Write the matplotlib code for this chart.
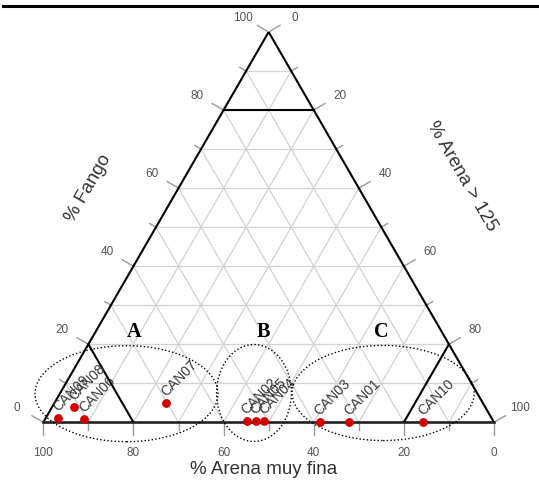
import numpy as np
import matplotlib
matplotlib.use('Agg')
import matplotlib.pyplot as plt
from matplotlib.patches import Ellipse
from matplotlib.lines import Line2D

# datos (porcentajes)
muestras = ['CAN09', 'CAN08', 'CAN06', 'CAN07', 'CAN02', 'CAN05', 'CAN04', 'CAN03', 'CAN01', 'CAN10']
arena_fina = [96.2, 91.2, 90.6, 70.3, 54.7, 52.7, 50.8, 38.6, 32.0, 15.7]
fango = [1.0, 4.0, 0.8, 4.9, 0.4, 0.4, 0.4, 0.2, 0.2, 0.2]
arena_125 = [2.8, 4.8, 8.6, 24.8, 44.9, 46.9, 48.8, 61.2, 67.8, 84.1]

ticks_mayores = [0, 20, 40, 60, 80, 100]
ticks_menores = [10, 30, 50, 70, 90]

H = np.sqrt(3) / 2


def tern(a, f, s):
    # a = arena muy fina (abajo izq), f = fango (arriba), s = arena > 125 (abajo der)
    return s + f / 2, f * H


fig = plt.figure(figsize=(5.39, 4.81), dpi=100)
ax = fig.add_axes([43.3 / 539, (481 - 423.3) / 481, 450.7 / 539, 450.7 * H / 481])
ax.set_xlim(0, 100)
ax.set_ylim(0, 100 * H)
ax.axis('off')

# linea superior
fig.add_artist(Line2D([0.006, 1.0], [1 - 7 / 481, 1 - 7 / 481], color='black', lw=2.2))

# cuadricula
gris = '#d2d2d2'
for v in range(10, 100, 10):
    x0, y0 = tern(100 - v, v, 0)
    x1, y1 = tern(0, v, 100 - v)
    ax.plot([x0, x1], [y0, y1], color=gris, lw=0.9, zorder=1)
    x0, y0 = tern(100 - v, 0, v)
    x1, y1 = tern(0, 100 - v, v)
    ax.plot([x0, x1], [y0, y1], color=gris, lw=0.9, zorder=1)
    x0, y0 = tern(v, 0, 100 - v)
    x1, y1 = tern(v, 100 - v, 0)
    ax.plot([x0, x1], [y0, y1], color=gris, lw=0.9, zorder=1)

# bordes del triangulo
A = tern(100, 0, 0)
F = tern(0, 100, 0)
S = tern(0, 0, 100)
ax.plot([A[0], F[0], S[0]], [A[1], F[1], S[1]], color='black', lw=1.5, zorder=3)
ax.plot([A[0], S[0]], [A[1], S[1]], color='#222222', lw=1.9, zorder=3, clip_on=False)

# lineas de clasificacion
for p, q in [(tern(20, 80, 0), tern(0, 80, 20)),
             (tern(80, 20, 0), tern(80, 0, 20)),
             (tern(20, 0, 80), tern(0, 20, 80))]:
    ax.plot([p[0], q[0]], [p[1], q[1]], color='black', lw=1.5, zorder=3)

# ticks y etiquetas
col_tick = '#9a9a9a'
col_lab = '#555555'
d_lab = 6.7
ejes = [
    (lambda v: tern(v, 0, 100 - v), (0.0, -1.0)),   # arena muy fina
    (lambda v: tern(100 - v, v, 0), (-H, 0.5)),     # fango
    (lambda v: tern(0, 100 - v, v), (H, 0.5)),      # arena > 125
]
for pos, (dx, dy) in ejes:
    for v in ticks_mayores + ticks_menores:
        x, y = pos(v)
        L = 2.9 if v in ticks_mayores else 1.6
        ax.plot([x, x + dx * L], [y, y + dy * L], color=col_tick, lw=1.0,
                clip_on=False, zorder=2)
    for v in ticks_mayores:
        x, y = pos(v)
        ax.text(x + dx * d_lab, y + dy * d_lab, str(v), ha='center', va='center',
                fontsize=8.5, color=col_lab, family='Liberation Sans')

# titulos de ejes
ax.text(48.9, -10.2, '% Arena muy fina', ha='center', va='center', fontsize=13.5,
        color='#333333', family='Liberation Sans')
ax.text(9.9, 52.2, '% Fango', ha='center', va='center', fontsize=13.5, rotation=60,
        color='#333333', family='Liberation Sans')
ax.text(92.8, 54.7, '% Arena > 125', ha='center', va='center', fontsize=13.5,
        rotation=-60, color='#333333', family='Liberation Sans')

# grupos
for cx, cy, w, h in [(18.46, 6.35, 40.6, 21.3), (46.75, 6.5, 16.6, 21.5), (75.4, 6.5, 40.4, 21.1)]:
    ax.add_patch(Ellipse((cx, cy), w, h, fill=False, edgecolor='black', lw=1.0,
                         linestyle=(0, (1, 1.6)), clip_on=False, zorder=4))
for letra, x, y in [('A', 20.2, 20.3), ('B', 48.8, 20.2), ('C', 74.9, 20.3)]:
    ax.text(x, y, letra, ha='center', va='center', fontsize=14.5, fontweight='bold',
            family='Liberation Serif', color='black')

# muestras
xs, ys = tern(np.array(arena_fina), np.array(fango), np.array(arena_125))
ax.plot(xs, ys, 'o', color='#d40000', ms=5.3, zorder=5, clip_on=False)
for nombre, x, y in zip(muestras, xs, ys):
    ax.annotate(nombre, (x, y), xytext=(1.5, 3.5), textcoords='offset points',
                rotation=45, rotation_mode='anchor', ha='left', va='bottom',
                fontsize=10, color='#3a3a3a', family='Liberation Sans', zorder=6)

fig.savefig('out.png', dpi=100)
